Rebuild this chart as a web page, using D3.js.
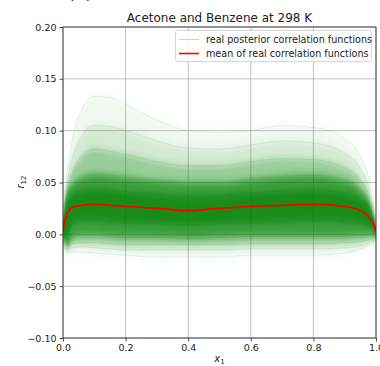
<!DOCTYPE html>
<html><head><meta charset="utf-8">
<script src="https://cdn.jsdelivr.net/npm/d3@7"></script>
<style>body{margin:0;background:#fff}svg{display:block}text{font-family:"DejaVu Sans",sans-serif;fill:#222}</style>
</head><body><svg id="c" width="380" height="366"></svg>
<script>
const xGrid = [0, 0.005, 0.015, 0.03, 0.06, 0.1, 0.15, 0.2, 0.3, 0.4, 0.5, 0.6, 0.7, 0.8, 0.9, 0.95, 0.98, 0.995, 1.0];
const meanCurve = [0.003, 0.012, 0.021, 0.026, 0.028, 0.029, 0.028, 0.027, 0.025, 0.023, 0.025, 0.027, 0.028, 0.029, 0.027, 0.023, 0.016, 0.008, 0.002];
// posterior envelope bands, outermost (faintest) to innermost (densest)
const band1Upper = [0.02, 0.04, 0.065, 0.092, 0.12, 0.133, 0.132, 0.125, 0.11, 0.10, 0.098, 0.10, 0.105, 0.103, 0.092, 0.075, 0.05, 0.025, 0.012];
const band1Lower = [-0.01, -0.014, -0.018, -0.017, -0.017, -0.018, -0.019, -0.02, -0.022, -0.022, -0.022, -0.02, -0.02, -0.02, -0.018, -0.014, -0.01, -0.007, -0.005];
const band2Upper = [0.016, 0.035, 0.055, 0.074, 0.095, 0.105, 0.104, 0.1, 0.09, 0.083, 0.082, 0.086, 0.09, 0.088, 0.078, 0.063, 0.042, 0.02, 0.008];
const band2Lower = [-0.008, -0.012, -0.015, -0.013, -0.012, -0.013, -0.014, -0.015, -0.015, -0.015, -0.015, -0.014, -0.014, -0.014, -0.013, -0.011, -0.008, -0.005, -0.004];
const band3Upper = [0.013, 0.03, 0.048, 0.06, 0.075, 0.082, 0.08, 0.077, 0.07, 0.066, 0.066, 0.07, 0.073, 0.072, 0.064, 0.052, 0.036, 0.017, 0.006];
const band3Lower = [-0.006, -0.01, -0.013, -0.009, -0.008, -0.008, -0.009, -0.01, -0.01, -0.01, -0.01, -0.009, -0.009, -0.009, -0.008, -0.007, -0.005, -0.004, -0.003];
const band4Upper = [0.01, 0.026, 0.042, 0.048, 0.055, 0.058, 0.057, 0.055, 0.052, 0.05, 0.05, 0.053, 0.056, 0.057, 0.052, 0.043, 0.03, 0.014, 0.004];
const band4Lower = [-0.004, -0.007, -0.01, -0.004, -0.001, -0.001, -0.002, -0.003, -0.003, -0.004, -0.003, -0.002, -0.002, -0.002, -0.002, -0.001, -0.001, -0.002, -0.002];
const band5Upper = [0.007, 0.02, 0.032, 0.038, 0.042, 0.044, 0.043, 0.041, 0.039, 0.037, 0.038, 0.04, 0.042, 0.043, 0.04, 0.034, 0.024, 0.011, 0.003];
const band5Lower = [-0.002, -0.003, 0.0, 0.01, 0.013, 0.013, 0.012, 0.011, 0.01, 0.009, 0.01, 0.011, 0.012, 0.013, 0.012, 0.01, 0.007, 0.003, 0.0];
const xTicks = [0, 0.2, 0.4, 0.6, 0.8, 1.0];
const yTicks = [-0.10, -0.05, 0.00, 0.05, 0.10, 0.15, 0.20];
const legendLabels = ["real posterior correlation functions", "mean of real correlation functions"];

const bands = [
  {u: band1Upper, l: band1Lower, o: 0.06},
  {u: band2Upper, l: band2Lower, o: 0.12},
  {u: band3Upper, l: band3Lower, o: 0.28},
  {u: band4Upper, l: band4Lower, o: 0.6},
  {u: band5Upper, l: band5Lower, o: 0.6}
];

const svg = d3.select("#c");
const x = d3.scaleLinear().domain([0, 1]).range([63, 376]);
const y = d3.scaleLinear().domain([-0.1, 0.2]).range([338, 27]);

const defs = svg.append("defs");
defs.append("clipPath").attr("id", "clip")
  .append("rect").attr("x", 63).attr("y", 27).attr("width", 313).attr("height", 311);
defs.append("filter").attr("id", "soft").attr("x", "-5%").attr("y", "-30%").attr("width", "110%").attr("height", "160%")
  .append("feGaussianBlur").attr("stdDeviation", "0.6 3.5");

// grid
const grid = svg.append("g");
grid.selectAll(".gx").data(xTicks).join("line")
  .attr("x1", d => x(d)).attr("x2", d => x(d)).attr("y1", 27).attr("y2", 338)
  .attr("stroke", "#b0b0b0").attr("stroke-width", 0.8);
grid.selectAll(".gy").data(yTicks).join("line")
  .attr("y1", d => y(d)).attr("y2", d => y(d)).attr("x1", 63).attr("x2", 376)
  .attr("stroke", "#b0b0b0").attr("stroke-width", 0.8);

const plot = svg.append("g").attr("clip-path", "url(#clip)");
const cloud = plot.append("g").attr("filter", "url(#soft)");
const area = d3.area().x((d, i) => x(xGrid[i])).y0(d => y(d[1])).y1(d => y(d[0])).curve(d3.curveMonotoneX);
const line = d3.line().x((d, i) => x(xGrid[i])).y(d => y(d)).curve(d3.curveMonotoneX);

bands.forEach(b => {
  const pts = xGrid.map((_, i) => [b.u[i], b.l[i]]);
  cloud.append("path").attr("d", area(pts)).attr("fill", "green").attr("fill-opacity", b.o);
});
bands.forEach(b => {
  plot.append("path").attr("d", line(b.u)).attr("fill", "none").attr("stroke", "green").attr("stroke-opacity", 0.12).attr("stroke-width", 0.8);
  plot.append("path").attr("d", line(b.l)).attr("fill", "none").attr("stroke", "green").attr("stroke-opacity", 0.12).attr("stroke-width", 0.8);
});

plot.append("path").attr("d", line(meanCurve)).attr("fill", "none")
  .attr("stroke", "red").attr("stroke-width", 1.8);

// axes
const xAxis = svg.append("g").attr("transform", "translate(0,338)")
  .call(d3.axisBottom(x).tickValues(xTicks).tickFormat(d3.format(".1f")).tickSize(3.5).tickPadding(3));
const yAxis = svg.append("g").attr("transform", "translate(63,0)")
  .call(d3.axisLeft(y).tickValues(yTicks).tickFormat(d => d3.format(".2f")(d).replace("-", "\u2212")).tickSize(3.5).tickPadding(3));
[xAxis, yAxis].forEach(a => {
  a.selectAll("text").attr("font-size", 9.5).attr("fill", "#222").attr("font-family", "DejaVu Sans");
  a.selectAll("line").attr("stroke", "#222").attr("stroke-width", 0.8);
  a.select(".domain").remove();
});
// spines
svg.append("rect").attr("x", 63).attr("y", 27).attr("width", 313).attr("height", 311)
  .attr("fill", "none").attr("stroke", "#222").attr("stroke-width", 0.8);

// title
svg.append("text").attr("x", 219.5).attr("y", 22).attr("text-anchor", "middle")
  .attr("font-size", 12).text("Acetone and Benzene at 298 K");
svg.append("text").attr("x", 68).attr("y", -1).attr("font-size", 17).text("(b)");

// axis labels
const xl = svg.append("text").attr("x", 219.5).attr("y", 362).attr("text-anchor", "middle").attr("font-size", 10);
xl.append("tspan").attr("font-style", "italic").text("x");
xl.append("tspan").attr("font-size", 7).attr("dy", 2).text("1");
const yl = svg.append("text").attr("transform", "translate(24,182) rotate(-90)").attr("text-anchor", "middle").attr("font-size", 10);
yl.append("tspan").attr("font-style", "italic").text("r");
yl.append("tspan").attr("font-size", 7).attr("dy", 2).text("12");

// legend
const lg = svg.append("g");
lg.append("rect").attr("x", 175.5).attr("y", 30.5).attr("width", 196).attr("height", 31).attr("rx", 2)
  .attr("fill", "white").attr("fill-opacity", 0.8).attr("stroke", "#ccc").attr("stroke-width", 0.8);
const lgColors = [{c: "green", o: 0.25, w: 1}, {c: "red", o: 1, w: 1.6}];
legendLabels.forEach((t, i) => {
  const yy = 39.5 + i * 14;
  lg.append("line").attr("x1", 179).attr("x2", 199).attr("y1", yy).attr("y2", yy)
    .attr("stroke", lgColors[i].c).attr("stroke-opacity", lgColors[i].o).attr("stroke-width", lgColors[i].w);
  lg.append("text").attr("x", 206).attr("y", yy + 3.5).attr("font-size", 9.6).text(t);
});
</script></body></html>
